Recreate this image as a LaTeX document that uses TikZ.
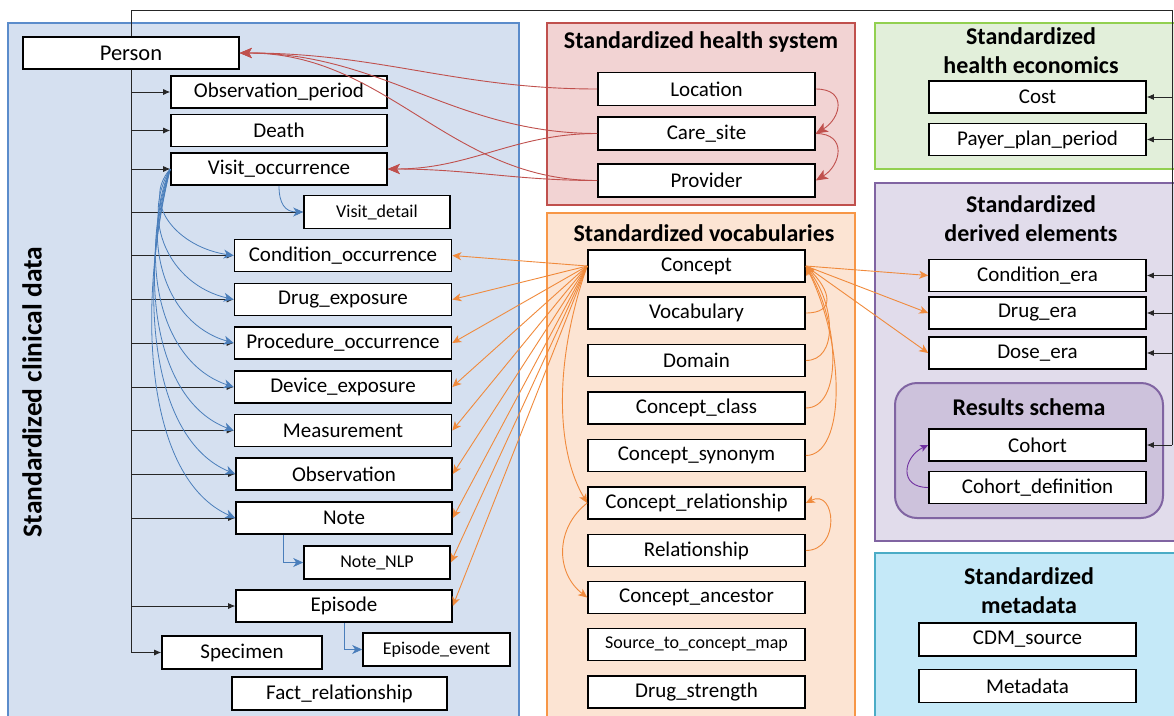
\documentclass[tikz,border=0pt]{standalone}
\usepackage{fontspec}
\setmainfont{Carlito}
\usetikzlibrary{arrows.meta,calc}
\definecolor{bluefill}{HTML}{D5E0F0}
\definecolor{blueline}{HTML}{5B8CCB}
\definecolor{redfill}{HTML}{F2D3D3}
\definecolor{redline}{HTML}{C0504D}
\definecolor{orgfill}{HTML}{FCE4D3}
\definecolor{orgline}{HTML}{F79646}
\definecolor{grnfill}{HTML}{E2EFDA}
\definecolor{grnline}{HTML}{92D050}
\definecolor{purfill}{HTML}{E1DCEB}
\definecolor{purline}{HTML}{8064A2}
\definecolor{resfill}{HTML}{CDC2DC}
\definecolor{cyafill}{HTML}{C5E9F8}
\definecolor{cyaline}{HTML}{4BACC6}
\definecolor{bluarrow}{HTML}{4A7EBB}
\definecolor{orgarrow}{HTML}{F08A3C}
\definecolor{redarrow}{HTML}{C0504D}
\definecolor{purarrow}{HTML}{7030A0}
\begin{document}
\begin{tikzpicture}[x=1pt,y=1pt,
  tbl/.style={draw=black, line width=1.6pt, fill=white, minimum width=217pt, minimum height=32pt, inner sep=0pt, font=\fontsize{21}{25}\selectfont, text=black},
  smalltxt/.style={font=\fontsize{18}{22}\selectfont},
  ttl/.style={font=\bfseries\fontsize{24}{29}\selectfont, align=center, inner sep=0pt, text=black},
  box/.style={line width=2pt},
  trunk/.style={draw=black!85, line width=0.8pt},
  blk/.style={draw=black!85, line width=0.8pt, -{Latex[length=7pt,width=6pt]}},
  blu/.style={draw=bluarrow, line width=0.8pt, -{Stealth[length=10pt,width=9pt,inset=3pt]}},
  redarr/.style={draw=redarrow, line width=0.9pt, -{Stealth[length=12pt,width=10pt,inset=3pt]}},
  org/.style={draw=orgarrow, line width=0.9pt, -{Stealth[length=9pt,width=8pt,inset=2.5pt]}},
  pur/.style={draw=purarrow, line width=0.9pt, -{Stealth[length=8pt,width=7pt,inset=2pt]}}
]
\useasboundingbox (0,0) rectangle (1174,-715);
\fill[white] (0,0) rectangle (1174,-715);

% containers
\draw[box, draw=blueline, fill=bluefill] (8,-23) rectangle (519,-730);
\draw[box, draw=redline, fill=redfill] (547,-23) rectangle (855,-205);
\draw[box, draw=orgline, fill=orgfill] (547,-213) rectangle (855,-730);
\draw[box, draw=grnline, fill=grnfill] (875,-23) rectangle (1176,-169);
\draw[box, draw=purline, fill=purfill] (875,-183) rectangle (1176,-541);
\draw[box, draw=purline, fill=resfill, rounded corners=22pt] (895,-383) rectangle (1163,-518);
\draw[box, draw=cyaline, fill=cyafill] (875,-553) rectangle (1176,-730);

% titles
\node[ttl, rotate=90, font=\bfseries\fontsize{27.5}{31}\selectfont] (tclin) at (32,-392) {Standardized clinical data};
\node[ttl] (thealth) at (701,-42) {Standardized health system};
\node[ttl] (tvocab) at (704,-233) {Standardized vocabularies};
\node[ttl] (tecon) at (1031,-51) {Standardized\\health economics};
\node[ttl] (tderiv) at (1031,-219) {Standardized\\derived elements};
\node[ttl] (tres) at (1029,-407) {Results schema};
\node[ttl] (tmeta) at (1029,-591) {Standardized\\metadata};

% clinical data tables
\node[tbl, minimum width=216pt, font=\fontsize{22.5}{26}\selectfont] (person) at (131,-53) {Person};
\node[tbl, minimum width=216pt] (obsp) at (279,-92) {Observation\_period};
\node[tbl, minimum width=216pt] (death) at (279,-130.5) {Death};
\node[tbl, minimum width=216pt] (visit) at (279,-169) {Visit\_occurrence};
\node[tbl, smalltxt, minimum width=146pt, minimum height=33pt] (vdet) at (377,-212) {Visit\_detail};
\node[tbl] (cond) at (343,-255.5) {Condition\_occurrence};
\node[tbl] (drug) at (343,-299.5) {Drug\_exposure};
\node[tbl] (proc) at (343,-343) {Procedure\_occurrence};
\node[tbl] (dev) at (343,-387) {Device\_exposure};
\node[tbl] (meas) at (343,-430.5) {Measurement};
\node[tbl, minimum width=216pt] (obsv) at (344,-474) {Observation};
\node[tbl, minimum width=216pt] (note) at (344,-518) {Note};
\node[tbl, smalltxt, minimum width=146pt, minimum height=33pt] (nnlp) at (377,-562.5) {Note\_NLP};
\node[tbl, minimum width=216pt] (episode) at (344,-606) {Episode};
\node[tbl, minimum width=160pt, minimum height=33pt] (spec) at (242,-652.5) {Specimen};
\node[tbl, smalltxt, minimum width=147pt, minimum height=33pt] (epev) at (436.5,-649.5) {Episode\_event};
\node[tbl, minimum width=215pt, minimum height=33pt] (fact) at (339.5,-693.5) {Fact\_relationship};

% health system
\node[tbl, minimum height=33pt] (loc) at (706.5,-89) {Location};
\node[tbl, minimum height=33pt] (care) at (706.5,-133.5) {Care\_site};
\node[tbl, minimum height=33pt] (prov) at (706.5,-180.5) {Provider};

% vocabularies
\node[tbl] (concept) at (696.5,-266) {Concept};
\node[tbl] (vocab) at (696.5,-313) {Vocabulary};
\node[tbl] (domain) at (696.5,-360.5) {Domain};
\node[tbl] (cclass) at (696.5,-408) {Concept\_class};
\node[tbl] (csyn) at (696.5,-455.5) {Concept\_synonym};
\node[tbl] (crel) at (696.5,-503) {Concept\_relationship};
\node[tbl] (rel) at (696.5,-550.5) {Relationship};
\node[tbl] (canc) at (696.5,-597.5) {Concept\_ancestor};
\node[tbl, smalltxt] (stcm) at (696.5,-644.5) {Source\_to\_concept\_map};
\node[tbl] (dstr) at (696.5,-692) {Drug\_strength};

% health economics
\node[tbl] (cost) at (1037.5,-97) {Cost};
\node[tbl] (payer) at (1037.5,-139.5) {Payer\_plan\_period};

% derived elements
\node[tbl] (cera) at (1037.5,-275.5) {Condition\_era};
\node[tbl] (dera) at (1037.5,-313) {Drug\_era};
\node[tbl] (dose) at (1037.5,-353) {Dose\_era};
\node[tbl] (cohort) at (1037.5,-445) {Cohort};
\node[tbl] (cdef) at (1037.5,-487.5) {Cohort\_definition};

% metadata
\node[tbl, minimum height=33pt] (cdm) at (1027.5,-639.5) {CDM\_source};
\node[tbl, minimum height=33pt] (meta) at (1027.5,-686) {Metadata};

% person trunk
\coordinate (tl) at (131,-10);
\coordinate (tr) at (1172,-10);
\draw[trunk] (person.north) -- (tl) -- (tr) -- (cohort.east -| tr);
\draw[trunk] (person.south) -- (spec.west -| tl);
\foreach \n in {obsp,death,visit,vdet,cond,drug,proc,dev,meas,obsv,note,episode,spec}
  \draw[blk] (\n.west -| tl) -- (\n.west);
\foreach \n in {cost,payer,cera,dera,dose,cohort}
  \draw[blk] (\n.east -| tr) -- (\n.east);

% visit occurrence links
\draw[blu] (visit.south) .. controls +(0,-18) and +(-18,0) .. (vdet.west);
\draw[blu] (visit.west) .. controls +(-30,-35) and +(-55,8) .. (cond.west);
\draw[blu] (visit.west) .. controls +(-30,-50) and +(-65,15) .. (drug.west);
\draw[blu] (visit.west) .. controls +(-30,-70) and +(-70,20) .. (proc.west);
\draw[blu] (visit.west) .. controls +(-32,-90) and +(-75,25) .. (dev.west);
\draw[blu] (visit.west) .. controls +(-32,-105) and +(-80,30) .. (meas.west);
\draw[blu] (visit.west) .. controls +(-32,-120) and +(-85,35) .. (obsv.west);
\draw[blu] (visit.west) .. controls +(-34,-140) and +(-90,40) .. (note.west);
\draw[blu] ([xshift=-61pt]note.south) |- (nnlp.west);
\draw[blu] (episode.south) |- (epev.west);

% health system links
\draw[redarr] (loc.west) to[out=180,in=0] (person.east);
\draw[redarr] (care.west) to[out=180,in=0] (person.east);
\draw[redarr] (prov.west) to[out=180,in=0] (person.east);
\draw[redarr] (care.west) to[out=180,in=0] (visit.east);
\draw[redarr] (prov.west) to[out=180,in=0] (visit.east);
\draw[redarr] (loc.east) .. controls +(32,0) and +(25,15) .. (care.east);
\draw[redarr] (care.east) .. controls +(32,0) and +(25,15) .. (prov.east);

% vocabulary links
\foreach \n in {cond,drug,proc,dev,meas,obsv,note,nnlp,episode}
  \draw[org] (concept.west) -- (\n.east);
\foreach \n in {cera,dera,dose}
  \draw[org] (concept.east) -- (\n.west);
\draw[org] (vocab.east) .. controls +(30,0) and +(25,-25) .. (concept.east);
\draw[org] (domain.east) .. controls +(32,0) and +(30,-40) .. (concept.east);
\draw[org] (cclass.east) .. controls +(36,0) and +(35,-60) .. (concept.east);
\draw[org] (csyn.east) .. controls +(40,0) and +(40,-80) .. (concept.east);
\draw[org] (concept.west) .. controls +(-35,-100) and +(-30,50) .. (crel.west);
\draw[org] (crel.west) .. controls +(-32,-25) and +(-32,25) .. (canc.west);
\draw[org] (rel.east) .. controls +(35,0) and +(30,15) .. (crel.east);

% results schema link
\draw[pur] (cdef.west) .. controls +(-30,0) and +(-25,-12) .. (cohort.west);
\end{tikzpicture}
\end{document}
